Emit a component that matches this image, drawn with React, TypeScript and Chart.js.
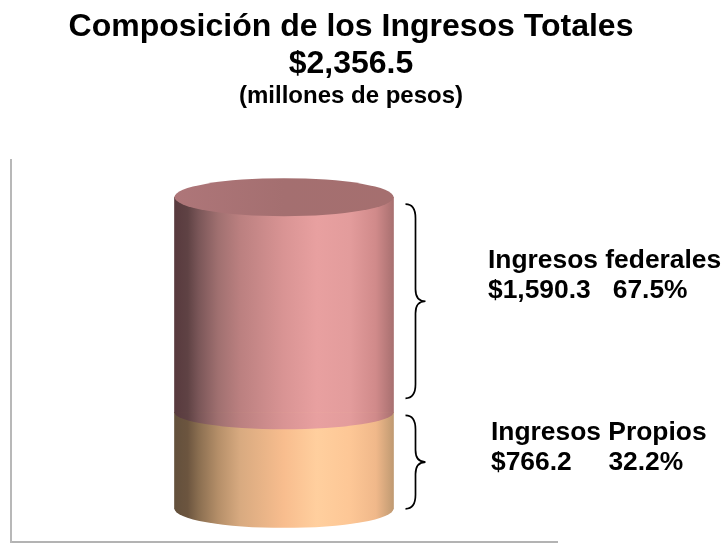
import React, { useEffect, useRef } from "react";
import { Chart, registerables } from "chart.js";

Chart.register(...registerables);

const categories = ["Ingresos Totales"];
const cylinderBase = [53];
const ingresosPropios = [766.2];
const ingresosTotales = [2356.5];
const titleLines = ["Composición de los Ingresos Totales", "$2,356.5"];
const subtitleText = "(millones de pesos)";
const federalLabel = ["Ingresos federales", "$1,590.3   67.5%"];
const propiosLabel = ["Ingresos Propios", "$766.2     32.2%"];

const FONT = '"Liberation Sans", Arial, sans-serif';
const pinkStops: [number, string][] = [
  [0, "#583a3e"],
  [0.06, "#5f4244"],
  [0.11, "#7a5658"],
  [0.2, "#a07070"],
  [0.3, "#bb8080"],
  [0.5, "#d99494"],
  [0.65, "#e8a0a0"],
  [0.8, "#e39c9c"],
  [0.92, "#d08a8a"],
  [1, "#a87070"],
];
const peachStops: [number, string][] = [
  [0, "#63503c"],
  [0.06, "#6c553f"],
  [0.11, "#8a6e50"],
  [0.2, "#b58f69"],
  [0.3, "#d8aa80"],
  [0.5, "#f8bd8e"],
  [0.65, "#ffcf9e"],
  [0.8, "#fdc796"],
  [0.92, "#f0b88a"],
  [1, "#c09a72"],
];
const BAR_WIDTH = 219;

function makeGradient(chart: any, stops: [number, string][]) {
  const xs = chart.scales.x;
  if (!xs || !chart.chartArea) return stops[0][1];
  const cx = xs.getPixelForValue(0);
  const g = chart.ctx.createLinearGradient(cx - BAR_WIDTH / 2, 0, cx + BAR_WIDTH / 2, 0);
  stops.forEach(([o, c]) => g.addColorStop(o, c));
  return g;
}

function brace(ctx: any, x: number, top: number, bottom: number) {
  const mid = (top + bottom) / 2;
  const spine = x + 10;
  const tip = x + 20;
  ctx.beginPath();
  ctx.moveTo(x, top);
  ctx.bezierCurveTo(x + 7, top, spine, top + 5, spine, top + 14);
  ctx.lineTo(spine, mid - 12);
  ctx.bezierCurveTo(spine, mid - 4, spine + 4, mid, tip, mid);
  ctx.bezierCurveTo(spine + 4, mid, spine, mid + 4, spine, mid + 12);
  ctx.lineTo(spine, bottom - 14);
  ctx.bezierCurveTo(spine, bottom - 5, x + 7, bottom, x, bottom);
  ctx.strokeStyle = "#000";
  ctx.lineWidth = 1.7;
  ctx.stroke();
}

const cylinderPlugin = {
  id: "cylinder",
  afterDatasetsDraw(chart: any) {
    const { ctx, scales } = chart;
    const cx = scales.x.getPixelForValue(0);
    const rx = BAR_WIDTH / 2;
    const yBase = scales.y.getPixelForValue(cylinderBase[0]);
    const yMid = scales.y.getPixelForValue(ingresosPropios[0]);
    const yTop = scales.y.getPixelForValue(ingresosTotales[0]);
    ctx.save();
    // bottom front of the peach segment
    ctx.beginPath();
    ctx.ellipse(cx, yBase, rx, 19, 0, 0, Math.PI);
    ctx.fillStyle = makeGradient(chart, peachStops);
    ctx.fill();
    // front edge of the pink segment, over the peach
    ctx.beginPath();
    ctx.ellipse(cx, yMid, rx, 17, 0, 0, Math.PI);
    ctx.fillStyle = makeGradient(chart, pinkStops);
    ctx.fill();
    // top face
    ctx.beginPath();
    ctx.ellipse(cx, yTop, rx, 19, 0, 0, Math.PI * 2);
    const g = ctx.createLinearGradient(cx - rx, 0, cx + rx, 0);
    g.addColorStop(0, "#ae7679");
    g.addColorStop(0.5, "#a46f70");
    g.addColorStop(1, "#a56f6f");
    ctx.fillStyle = g;
    ctx.fill();
    // braces
    brace(ctx, cx + rx + 12, yTop + 7, yMid - 14);
    brace(ctx, cx + rx + 12, yMid + 3, yBase);
    // texts
    ctx.fillStyle = "#000";
    ctx.textBaseline = "alphabetic";
    ctx.textAlign = "center";
    ctx.font = `bold 32px ${FONT}`;
    ctx.fillText(titleLines[0], 351, 36);
    ctx.fillText(titleLines[1], 351, 73);
    ctx.font = `bold 24px ${FONT}`;
    ctx.fillText(subtitleText, 351, 103);
    ctx.textAlign = "left";
    ctx.font = `bold 26.4px ${FONT}`;
    ctx.fillText(federalLabel[0], 488, 268);
    ctx.fillText(federalLabel[1], 488, 298);
    ctx.fillText(propiosLabel[0], 491, 440);
    ctx.fillText(propiosLabel[1], 491, 470);
    ctx.restore();
  },
};

export default function App() {
  const ref = useRef<HTMLCanvasElement>(null);
  useEffect(() => {
    const chart = new Chart(ref.current!, {
      type: "bar",
      data: {
        labels: categories,
        datasets: [
          {
            label: "Ingresos federales",
            data: ingresosPropios.map((v, i) => [v, ingresosTotales[i]]) as any,
            backgroundColor: (c: any) => makeGradient(c.chart, pinkStops),
            borderWidth: 0,
            barThickness: BAR_WIDTH,
            grouped: false,
          } as any,
          {
            label: "Ingresos Propios",
            data: ingresosPropios.map((v, i) => [cylinderBase[i], v]) as any,
            backgroundColor: (c: any) => makeGradient(c.chart, peachStops),
            borderWidth: 0,
            barThickness: BAR_WIDTH,
            grouped: false,
          } as any,
        ],
      },
      options: {
        animation: false,
        responsive: false,
        layout: { padding: { left: 11, right: 168, bottom: 1, top: 160 } },
        plugins: {
          legend: { display: false },
          tooltip: { enabled: false },
          title: { display: false },
        },
        scales: {
          x: {
            grid: { display: false, drawTicks: false },
            ticks: { display: false },
            border: { display: true, color: "#b3b3b3", width: 3 },
          },
          y: {
            min: -192,
            max: 2631,
            grid: { display: false, drawTicks: false },
            ticks: { display: false },
            border: { display: true, color: "#b8b8b8", width: 2 },
          },
        },
      },
      plugins: [cylinderPlugin],
    });
    return () => chart.destroy();
  }, []);
  return (
    <div style={{ position: "fixed", left: 0, top: 0, width: 725, height: 543, overflow: "hidden", background: "#fff" }}>
      <canvas ref={ref} width={725} height={543} style={{ display: "block", width: 725, height: 543 }} />
    </div>
  );
}
